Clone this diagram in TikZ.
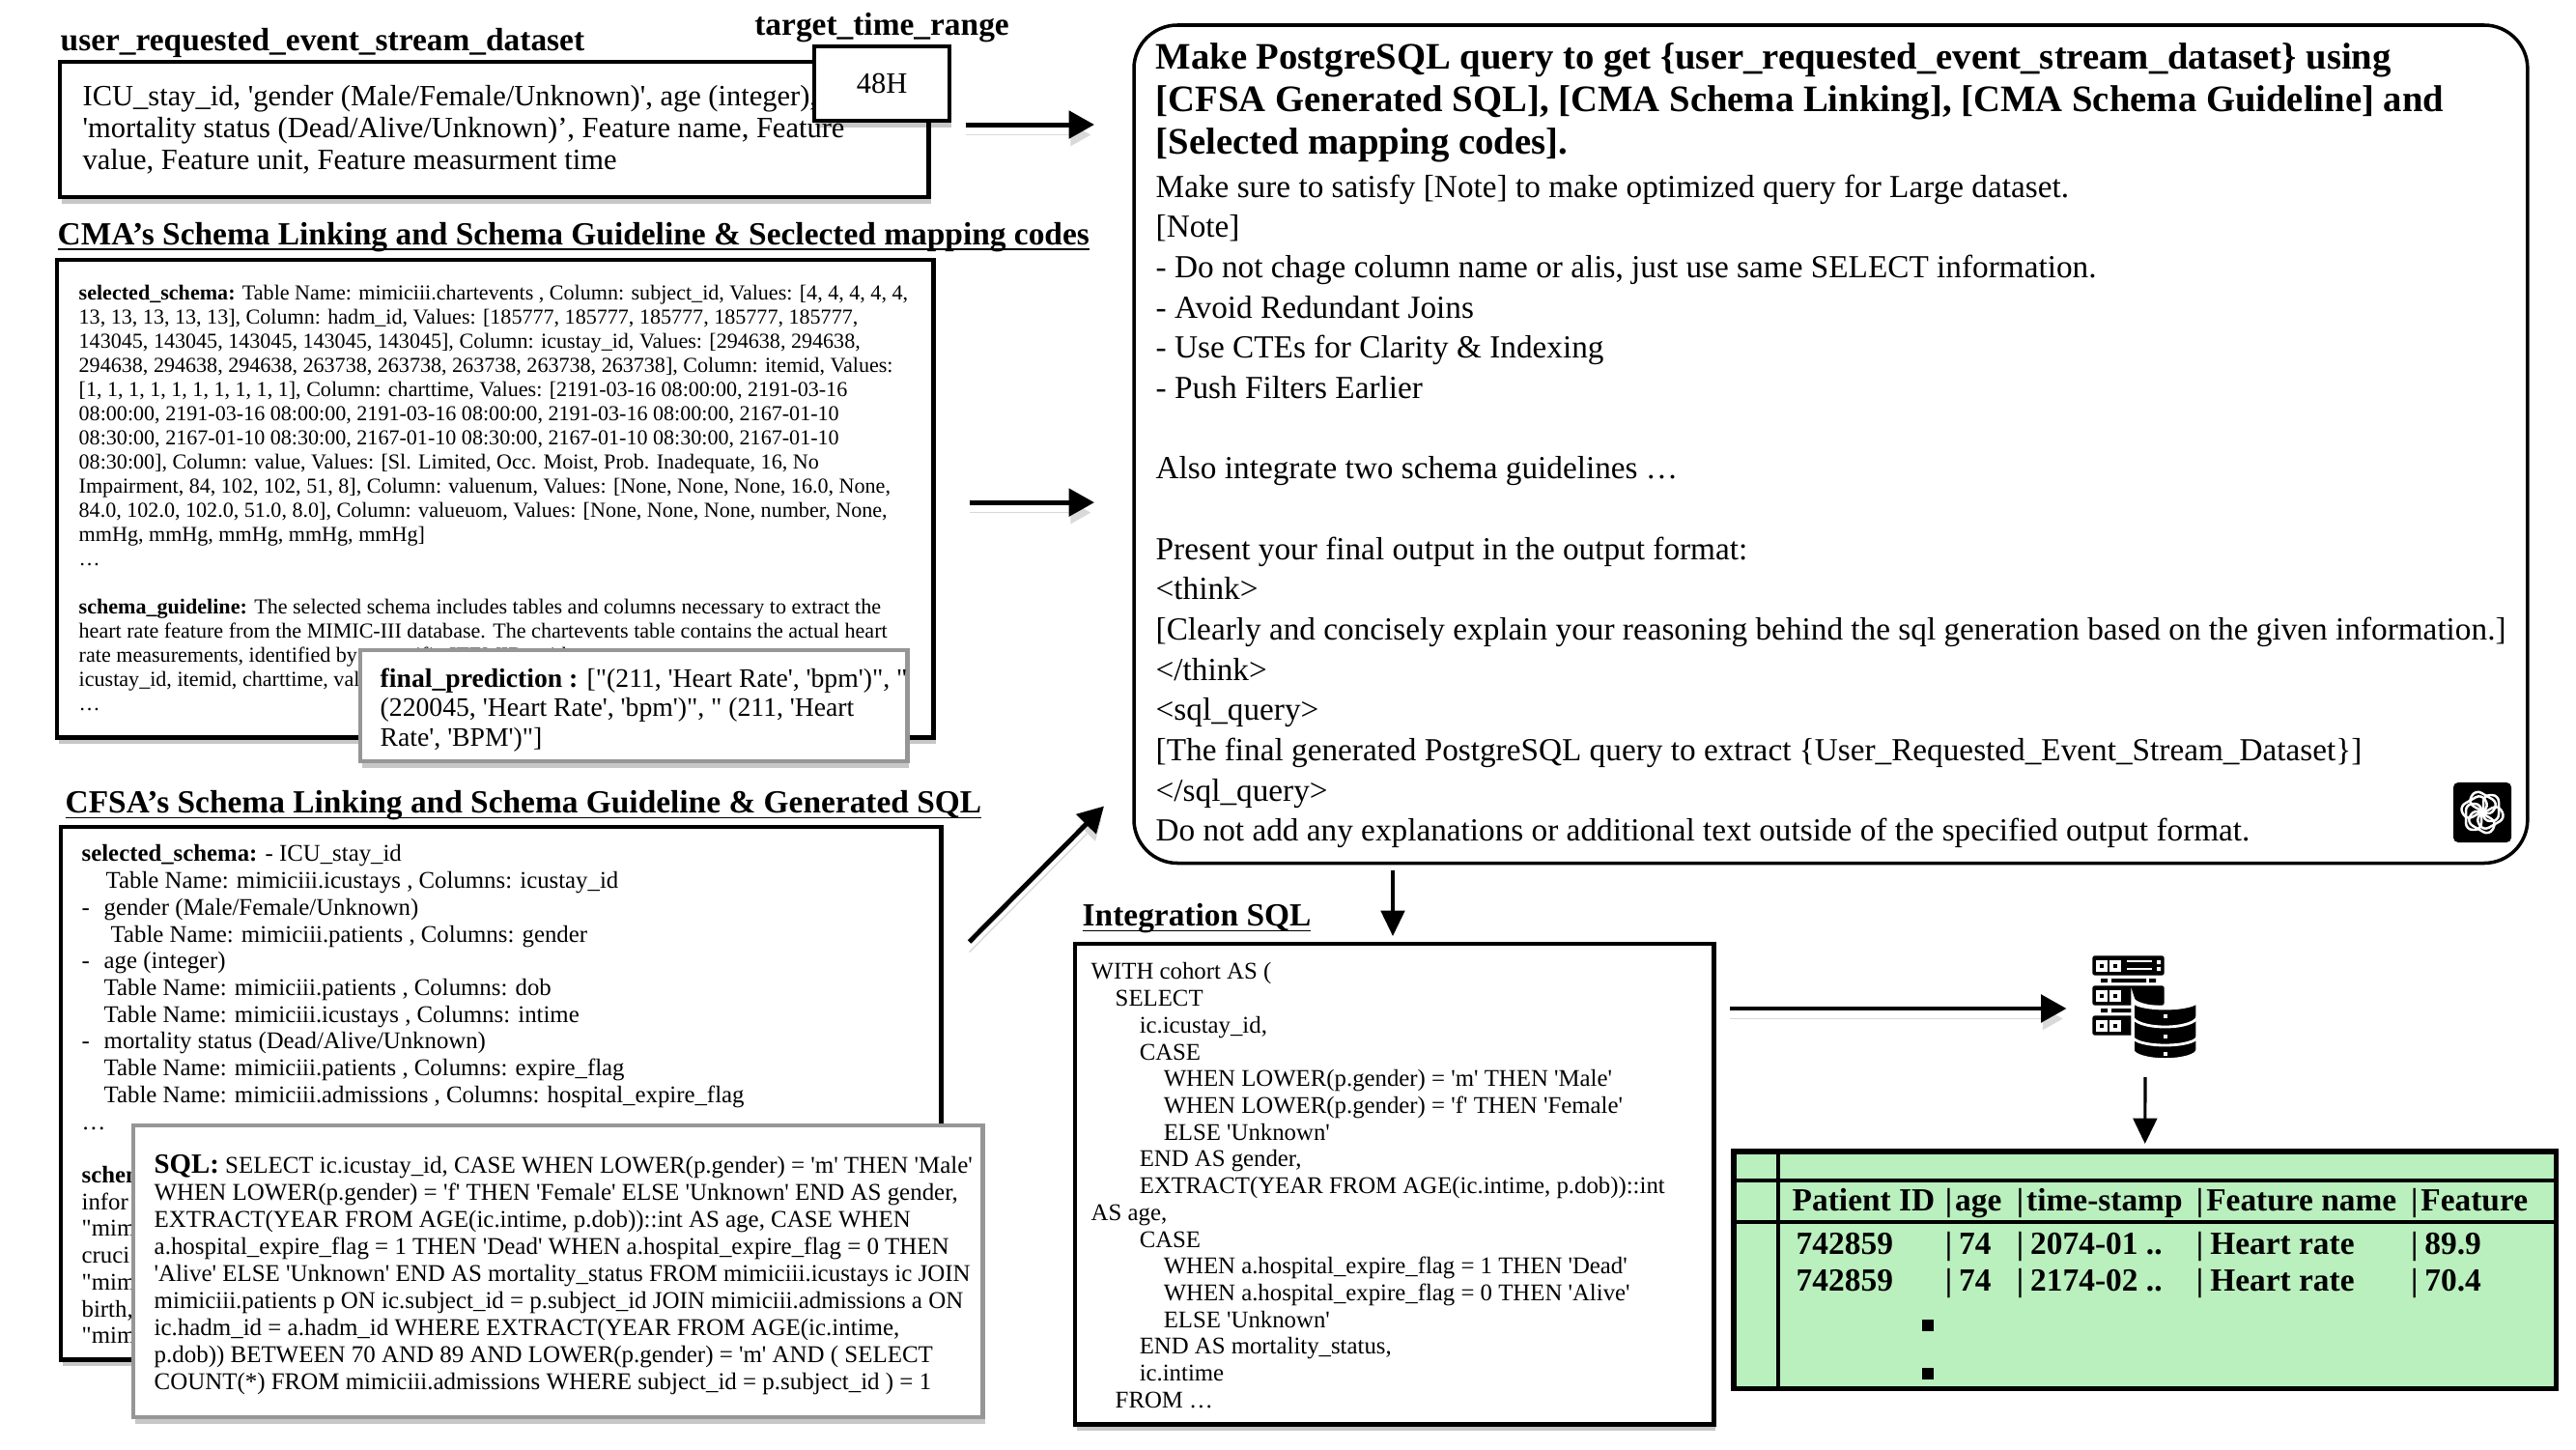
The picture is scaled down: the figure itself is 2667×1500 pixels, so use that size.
\documentclass[tikz,border=0pt]{standalone}
\usepackage{fontspec}
\setmainfont{Liberation Serif}[Ligatures=TeXOff]
\usepackage{xcolor}
\usetikzlibrary{arrows.meta,positioning,calc,shadows}
\definecolor{tableGreen}{RGB}{186,239,190}
\definecolor{popupGray}{RGB}{150,150,150}
\newcommand{\dashItem}[1]{\makebox[.23cm][l]{-}#1}
\newcommand{\tblRow}[6][.07cm]{\makebox[1.58cm][l]{#2}\makebox[.74cm][l]{|\hspace{#1}#3}\makebox[1.86cm][l]{|\hspace{#1}#4}\makebox[2.22cm][l]{|\hspace{#1}#5}|\hspace{#1}#6}
\newcommand{\titleLine}[1]{\underline{\smash{#1}}}

\begin{document}
\begin{tikzpicture}[
    x=0.01cm, y=-0.01cm,
    softShadow/.style={drop shadow={shadow xshift=0.02cm, shadow yshift=-0.07cm, opacity=0.22, fill=black}},
    plainBox/.style={rectangle, draw=black, fill=white, line width=1.3pt, inner sep=0pt, outer sep=0pt, anchor=north west, softShadow},
    popupBox/.style={rectangle, draw=popupGray, fill=white, line width=1.3pt, inner sep=0pt, outer sep=0pt, anchor=north west, softShadow},
    mainBoxStyle/.style={rectangle, rounded corners=0.45cm, draw=black, fill=white, line width=1pt, inner sep=0pt, outer sep=0pt, anchor=north west},
    tableBox/.style={rectangle, draw=black, fill=tableGreen, line width=1.5pt, inner sep=0pt, outer sep=0pt, anchor=north west},
    boxTitle/.style={inner sep=0pt, font=\fontsize{9.5}{11}\selectfont\bfseries},
    promptTitle/.style={inner sep=0pt, anchor=north west, align=left, font=\fontsize{11}{12.5}\selectfont\bfseries},
    promptText/.style={inner sep=0pt, anchor=north west, align=left, font=\fontsize{9.46}{11.85}\selectfont},
    inputText/.style={inner sep=0pt, anchor=north west, align=left, font=\fontsize{8.67}{9.4}\selectfont},
    schemaText/.style={inner sep=0pt, anchor=north west, align=left, font=\fontsize{6.28}{7.11}\selectfont},
    cfsaText/.style={inner sep=0pt, anchor=north west, align=left, font=\fontsize{7.05}{7.88}\selectfont},
    popupText/.style={inner sep=0pt, anchor=north west, align=left, font=\fontsize{7.09}{7.96}\selectfont},
    predText/.style={inner sep=0pt, anchor=north west, align=left, font=\fontsize{7.87}{8.68}\selectfont},
    tableText/.style={inner sep=0pt, anchor=west, font=\fontsize{9.5}{11}\selectfont\bfseries},
    tableDot/.style={rectangle, fill=black, inner sep=0pt, minimum size=0.12cm},
    flowArrow/.style={-{Triangle[length=7.5pt, width=8pt]}, line width=1.4pt, draw=black, preaction={draw=black!15, transform canvas={yshift=-3pt}}},
    thinArrow/.style={-{Triangle[length=7.5pt, width=7pt]}, line width=0.9pt, draw=black}
]
\useasboundingbox (0,0) rectangle (2667,1500);

% Input box
\node (inputBox) [plainBox, minimum width=8.99cm, minimum height=1.4cm] at (62,64) {};
\node (inputTitle) [boxTitle, above right=0.035cm and 0cm of inputBox.north west] {user\_requested\_event\_stream\_dataset};
\node (inputBody) [inputText] at (85,88) {ICU\_stay\_id, 'gender (Male/Female/Unknown)', age (integer),\\
'mortality status (Dead/Alive/Unknown)’, Feature name, Feature\\
value, Feature unit, Feature measurment time};
\node (targetBox) [plainBox, minimum width=1.4cm, minimum height=0.77cm, font=\fontsize{8.67}{9.4}\selectfont] at (843,48) {48H};
\node (targetTitle) [boxTitle, above=0.03cm of targetBox] {target\_time\_range};

% CMA box
\node (cmaBox) [plainBox, minimum width=9.07cm, minimum height=4.94cm] at (59,269) {};
\node (cmaTitle) [boxTitle, above right=0.08cm and 0cm of cmaBox.north west] {\titleLine{CMA’s Schema Linking and Schema Guideline \& Seclected mapping codes}};
\node (cmaBody) [schemaText] at (81,294) {\textbf{selected\_schema:} Table Name: mimiciii.chartevents , Column: subject\_id, Values: {[}4, 4, 4, 4, 4,\\
13, 13, 13, 13, 13], Column: hadm\_id, Values: {[}185777, 185777, 185777, 185777, 185777,\\
143045, 143045, 143045, 143045, 143045], Column: icustay\_id, Values: {[}294638, 294638,\\
294638, 294638, 294638, 263738, 263738, 263738, 263738, 263738], Column: itemid, Values:\\
{[}1, 1, 1, 1, 1, 1, 1, 1, 1, 1], Column: charttime, Values: {[}2191-03-16 08:00:00, 2191-03-16\\
08:00:00, 2191-03-16 08:00:00, 2191-03-16 08:00:00, 2191-03-16 08:00:00, 2167-01-10\\
08:30:00, 2167-01-10 08:30:00, 2167-01-10 08:30:00, 2167-01-10 08:30:00, 2167-01-10\\
08:30:00], Column: value, Values: {[}Sl. Limited, Occ. Moist, Prob. Inadequate, 16, No\\
Impairment, 84, 102, 102, 51, 8], Column: valuenum, Values: {[}None, None, None, 16.0, None,\\
84.0, 102.0, 102.0, 51.0, 8.0], Column: valueuom, Values: {[}None, None, None, number, None,\\
mmHg, mmHg, mmHg, mmHg, mmHg]\\
…\\
\mbox{}\\
\textbf{schema\_guideline:} The selected schema includes tables and columns necessary to extract the\\
heart rate feature from the MIMIC-III database. The chartevents table contains the actual heart\\
rate measurements, identified by a specific ITEMID, with\\
icustay\_id, itemid, charttime, val\\
…};
\node (predBox) [popupBox, minimum width=5.66cm, minimum height=1.15cm] at (373,673) {};
\node (predBody) [predText] at (393,691) {\textbf{final\_prediction :} {[}"(211, 'Heart Rate', 'bpm')", "\\
(220045, 'Heart Rate', 'bpm')", " (211, 'Heart\\
Rate', 'BPM')"]};

% CFSA box
\node (cfsaBox) [plainBox, minimum width=9.11cm, minimum height=5.51cm] at (63,856) {};
\node (cfsaTitle) [boxTitle, above right=0.065cm and 0.04cm of cfsaBox.north west] {\titleLine{CFSA’s Schema Linking and Schema Guideline \& Generated SQL}};
\node (cfsaBody) [cfsaText] at (84,874) {\textbf{selected\_schema:} - ICU\_stay\_id\\
\hspace*{.25cm}Table Name: mimiciii.icustays , Columns: icustay\_id\\
\dashItem{gender (Male/Female/Unknown)}\\
\hspace*{.3cm}Table Name: mimiciii.patients , Columns: gender\\
\dashItem{age (integer)}\\
\hspace*{.23cm}Table Name: mimiciii.patients , Columns: dob\\
\hspace*{.23cm}Table Name: mimiciii.icustays , Columns: intime\\
\dashItem{mortality status (Dead/Alive/Unknown)}\\
\hspace*{.23cm}Table Name: mimiciii.patients , Columns: expire\_flag\\
\hspace*{.23cm}Table Name: mimiciii.admissions , Columns: hospital\_expire\_flag\\
…\\
\mbox{}\\
\textbf{schem}\\
infor\\
"mim\\
cruci\\
"mim\\
birth,\\
"mim};
\node (sqlBox) [popupBox, minimum width=8.79cm, minimum height=3.02cm] at (138,1165) {};
\node (sqlBody) [popupText] at (159,1195) {\textbf{\fontsize{8.2}{7.96}\selectfont SQL:} SELECT ic.icustay\_id, CASE WHEN LOWER(p.gender) = 'm' THEN 'Male'\\
WHEN LOWER(p.gender) = 'f' THEN 'Female' ELSE 'Unknown' END AS gender,\\
EXTRACT(YEAR FROM AGE(ic.intime, p.dob))::int AS age, CASE WHEN\\
a.hospital\_expire\_flag = 1 THEN 'Dead' WHEN a.hospital\_expire\_flag = 0 THEN\\
'Alive' ELSE 'Unknown' END AS mortality\_status FROM mimiciii.icustays ic JOIN\\
mimiciii.patients p ON ic.subject\_id = p.subject\_id JOIN mimiciii.admissions a ON\\
ic.hadm\_id = a.hadm\_id WHERE EXTRACT(YEAR FROM AGE(ic.intime,\\
p.dob)) BETWEEN 70 AND 89 AND LOWER(p.gender) = 'm' AND ( SELECT\\
COUNT(*) FROM mimiciii.admissions WHERE subject\_id = p.subject\_id ) = 1};

% Prompt box
\node (mainBox) [mainBoxStyle, minimum width=14.42cm, minimum height=8.67cm] at (1174,26) {};
\node (mainTitle) [promptTitle] at (1196,44) {Make PostgreSQL query to get \{user\_requested\_event\_stream\_dataset\} using\\
{[}CFSA Generated SQL], {[}CMA Schema Linking], {[}CMA Schema Guideline] and\\
{[}Selected mapping codes].};
\node (mainBody) [promptText] at (1196,180) {Make sure to satisfy {[}Note] to make optimized query for Large dataset.\\
{[}Note]\\
- Do not chage column name or alis, just use same SELECT information.\\
- Avoid Redundant Joins\\
- Use CTEs for Clarity \& Indexing\\
- Push Filters Earlier\\
\mbox{}\\
Also integrate two schema guidelines …\\
\mbox{}\\
Present your final output in the output format:\\
<think>\\
{[}Clearly and concisely explain your reasoning behind the sql generation based on the given information.]\\
</think>\\
<sql\_query>\\
{[}The final generated PostgreSQL query to extract \{User\_Requested\_Event\_Stream\_Dataset\}]\\
</sql\_query>\\
Do not add any explanations or additional text outside of the specified output format.};
\node (gptLogo) [rectangle, rounded corners=0.05cm, fill=black, minimum width=0.6cm, minimum height=0.62cm, inner sep=0pt] at (2570,841) {};
\foreach \ang in {0,60,...,300} {
    \draw [white, line width=0.7pt, rounded corners=0.07cm, shift={(gptLogo.center)}, rotate=\ang] (1,-18) rectangle (17,9);
}

% Integration SQL
\node (intBox) [plainBox, minimum width=6.61cm, minimum height=4.97cm] at (1113,977) {};
\node (intTitle) [boxTitle, above right=0.105cm and 0.07cm of intBox.north west] {\titleLine{Integration SQL}};
\node (intBody) [cfsaText] at (1129,996) {WITH cohort AS (\\
\hspace*{.25cm}SELECT\\
\hspace*{.5cm}ic.icustay\_id,\\
\hspace*{.5cm}CASE\\
\hspace*{.75cm}WHEN LOWER(p.gender) = 'm' THEN 'Male'\\
\hspace*{.75cm}WHEN LOWER(p.gender) = 'f' THEN 'Female'\\
\hspace*{.75cm}ELSE 'Unknown'\\
\hspace*{.5cm}END AS gender,\\
\hspace*{.5cm}EXTRACT(YEAR FROM AGE(ic.intime, p.dob))::int\\
AS age,\\
\hspace*{.5cm}CASE\\
\hspace*{.75cm}WHEN a.hospital\_expire\_flag = 1 THEN 'Dead'\\
\hspace*{.75cm}WHEN a.hospital\_expire\_flag = 0 THEN 'Alive'\\
\hspace*{.75cm}ELSE 'Unknown'\\
\hspace*{.5cm}END AS mortality\_status,\\
\hspace*{.5cm}ic.intime\\
\hspace*{.25cm}FROM …};

% Database icon
\node (dbIcon) [rectangle, minimum width=1.09cm, minimum height=1.08cm, inner sep=0pt, outer sep=0pt] at (2221,1044) {};
\foreach \ry in {990,1021,1052} {
    \draw [black, fill=black, rounded corners=0.02cm] (2167,\ry) rectangle (2240,\ry+19);
    \foreach \rx in {2172,2186} {
        \draw [white, line width=0.9pt] (\rx,\ry+6) rectangle (\rx+8,\ry+14);
    }
}
\draw [white, line width=0.6pt] (2202,995) -- (2228,995) (2202,1003) -- (2228,1003);
\fill [white] (2233,994) rectangle (2237,998) (2233,1001) rectangle (2237,1005);
\foreach \ry in {1015,1046} {
    \fill [black] (2175,\ry-2) rectangle (2182,\ry+2) (2186,\ry-2) rectangle (2222,\ry+2) (2225,\ry-2) rectangle (2232,\ry+2);
}
\draw [white, fill=black, line width=1pt] (2208,1033) -- (2208,1087) arc[start angle=180, end angle=360, x radius=33.5, y radius=-10] -- (2275,1033) arc[start angle=0, end angle=180, x radius=33.5, y radius=10] -- cycle;
\draw [white, line width=0.8pt] (2208,1036) arc[start angle=180, end angle=360, x radius=33.5, y radius=-8];
\draw [white, line width=0.8pt] (2208,1052) arc[start angle=180, end angle=360, x radius=33.5, y radius=-11];
\draw [white, line width=0.8pt] (2208,1073) arc[start angle=180, end angle=360, x radius=33.5, y radius=-9];
\foreach \ry in {1052,1073,1091} {
    \fill [white] (2240,\ry-2) rectangle (2244,\ry+2);
}

% Result table
\node (resultTable) [tableBox, minimum width=8.51cm, minimum height=2.45cm] at (1795,1192) {};
\coordinate (ruleTop) at (1795,1222);
\coordinate (ruleHead) at (1795,1265);
\draw [line width=1.3pt] (ruleTop) -- (ruleTop -| resultTable.east);
\draw [line width=1.3pt] (ruleHead) -- (ruleHead -| resultTable.east);
\draw [line width=1.3pt] (1841,1192) -- (1841,1437);
\node (tableHead) [tableText] at (1855,1246) {\tblRow[.03cm]{Patient ID}{age}{time-stamp}{Feature name}{Feature}};
\node (tableRowA) [tableText] at (1855,1290) {\tblRow{\hspace*{.04cm}742859}{74}{2074-01 ..}{Heart rate}{89.9}};
\node (tableRowB) [tableText] at (1855,1328) {\tblRow{\hspace*{.04cm}742859}{74}{2174-02 ..}{Heart rate}{70.4}};
\node (tableDotA) [tableDot] at (1996,1372) {};
\node (tableDotB) [tableDot] at (1996,1422) {};

% Connectors
\draw [flowArrow] ($(inputBox.east)+(38,-5)$) -- ($(inputBox.east -| mainBox.west)+(-41,-5)$);
\draw [flowArrow] ($(cmaBox.east)+(37,4)$) -- ($(cmaBox.east -| mainBox.west)+(-41,4)$);
\draw [flowArrow] ($(cfsaBox.north east)+(29,119)$) -- ($(mainBox.south west)+(-31,-59)$);
\draw [thinArrow] ($(mainBox.south west)+(268,7)$) -- ($(intBox.north west)+(329,-8)$);
\draw [flowArrow] (intBox.east |- dbIcon.west) ++(17,0) -- ($(dbIcon.west)+(-27,0)$);
\draw [thinArrow, shorten <=0.17cm, shorten >=0.08cm] (dbIcon.south) -- (resultTable.north);

\end{tikzpicture}
\end{document}
